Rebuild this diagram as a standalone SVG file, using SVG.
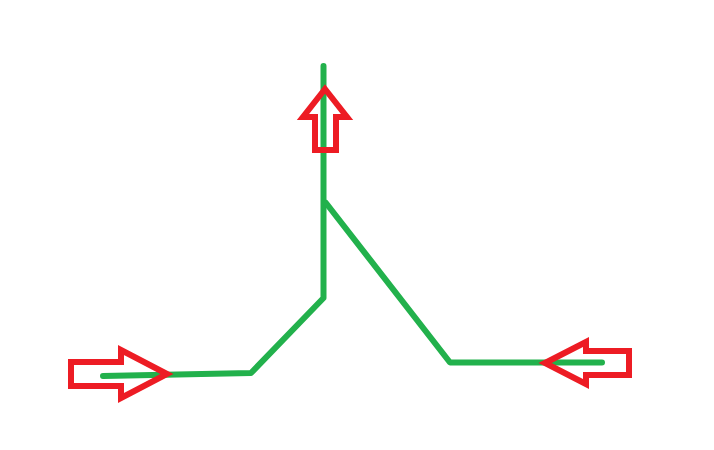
<svg xmlns="http://www.w3.org/2000/svg" width="714" height="450" viewBox="0 0 714 450">
<style>
.g{fill:none;stroke:#22b14c;stroke-width:6;stroke-linecap:round;stroke-linejoin:round}
.r{fill:none;stroke:#ed1c24;stroke-width:6;stroke-linejoin:miter}
</style>
<rect width="714" height="450" fill="#ffffff"/>
<g id="connectors">
<path class="g" d="M323.5,66 L323.5,298 L251,373 L103,376"/>
<path class="g" d="M326,203 L450,362.5 L602,362.5"/>
</g>
<g id="arrow-up"><polygon class="r" points="325,89 347,117 336,117 336,150 315,150 315,117 303,117"/></g>
<g id="arrow-left-in"><polygon class="r" points="167,374 121,350 121,362 71,362 71,386 121,386 121,398"/></g>
<g id="arrow-right-in"><polygon class="r" points="545,363 586,342 586,351 629,351 629,375 586,375 586,384"/></g>
</svg>
